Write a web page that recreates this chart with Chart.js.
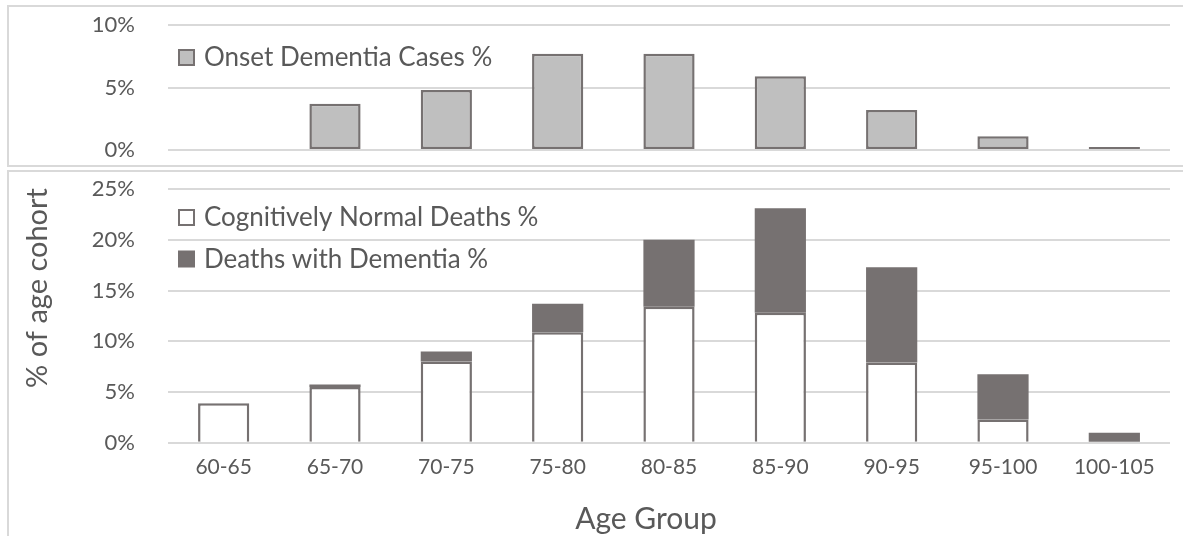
<!DOCTYPE html>
<html>
<head>
<meta charset="utf-8">
<script src="https://cdn.jsdelivr.net/npm/chart.js@4.4.0/dist/chart.umd.min.js"></script>
<style>
body{margin:0;background:#fff;width:1183px;height:536px;overflow:hidden;position:relative;font-family:Lato}
.frame{position:absolute;border:2px solid #d9d9d9;left:7px;width:1200px}
#f1{top:5px;height:158px}
#f2{top:170px;height:400px}
#w1{position:absolute;left:0;top:0}
#w2{position:absolute;left:0;top:168px}
</style>
</head>
<body>
<div class="frame" id="f1"></div>
<div class="frame" id="f2"></div>
<canvas id="w1" width="1183" height="168"></canvas>
<canvas id="w2" width="1183" height="368"></canvas>
<script>
var ageGroups = ['60-65', '65-70', '70-75', '75-80', '80-85', '85-90', '90-95', '95-100', '100-105'];
var onsetPct = [null, 3.7, 4.8, 7.7, 7.7, 5.9, 3.2, 1.1, 0.25];
var normalDeathPct = [3.9, 5.5, 8.0, 10.9, 13.4, 12.8, 7.9, 2.3, 0];
var dementiaDeathPct = [0, 0.25, 1.0, 2.8, 6.6, 10.3, 9.4, 4.45, 1.0];
var yTicksTop = [0, 5, 10];
var yTicksBottom = [0, 5, 10, 15, 20, 25];

var textColor = '#595959';
var barEdge = '#767171';
var gridColor = '#d9d9d9';

Chart.defaults.font.family = 'Lato';
Chart.defaults.color = textColor;

// legend drawn inside the plot, Excel style
var innerLegend = {
    id: 'innerLegend',
    afterDraw: function (chart, args, opts) {
        var ctx = chart.ctx;
        var area = chart.chartArea;
        ctx.save();
        ctx.font = opts.fontSize + 'px Lato';
        ctx.textBaseline = 'middle';
        chart.data.datasets.forEach(function (ds, i) {
            var y = area.top + opts.top + i * opts.spacing;
            var x = area.left + opts.left;
            ctx.fillStyle = ds.backgroundColor;
            ctx.fillRect(x, y - 7, 15, 15);
            ctx.strokeStyle = barEdge;
            ctx.lineWidth = 2;
            ctx.strokeRect(x, y - 7, 15, 15);
            ctx.fillStyle = textColor;
            ctx.fillText(ds.label, x + 25, y + 1);
        });
        ctx.restore();
    }
};

// axis titles placed where Excel put them
var axisTitles = {
    id: 'axisTitles',
    afterDraw: function (chart, args, opts) {
        var ctx = chart.ctx;
        ctx.save();
        ctx.fillStyle = textColor;
        ctx.textAlign = 'center';
        ctx.textBaseline = 'middle';
        opts.items.forEach(function (t) {
            ctx.save();
            ctx.font = t.size + 'px Lato';
            ctx.translate(t.x, t.y);
            ctx.rotate(t.rotate || 0);
            ctx.fillText(t.text, 0, 0);
            ctx.restore();
        });
        ctx.restore();
    }
};

function yScale(max, ticks) {
    return {
        min: 0,
        max: max,
        afterBuildTicks: function (s) {
            s.ticks = ticks.map(function (v) { return {value: v}; });
        },
        afterFit: function (s) { s.width = 168; },
        border: {display: false},
        grid: {color: gridColor, lineWidth: 2, drawTicks: true, tickLength: 33, tickColor: 'rgba(0,0,0,0)'},
        ticks: {
            padding: 0,
            font: {size: 22},
            callback: function (v) { return v + '%'; }
        }
    };
}

new Chart(document.getElementById('w1').getContext('2d'), {
    type: 'bar',
    data: {
        labels: ageGroups,
        datasets: [{
            label: 'Onset Dementia Cases %',
            data: onsetPct,
            backgroundColor: '#bfbfbf',
            borderColor: barEdge,
            borderWidth: 2.5,
            borderSkipped: false,
            barPercentage: 0.46,
            categoryPercentage: 1
        }]
    },
    options: {
        responsive: false,
        animation: false,
        layout: {padding: {top: 25, right: 13, bottom: 18}},
        plugins: {
            legend: {display: false},
            tooltip: {enabled: false},
            innerLegend: {left: 11, top: 32, spacing: 42, fontSize: 26}
        },
        scales: {
            x: {display: false},
            y: yScale(10, yTicksTop)
        }
    },
    plugins: [innerLegend]
});

new Chart(document.getElementById('w2').getContext('2d'), {
    type: 'bar',
    data: {
        labels: ageGroups,
        datasets: [{
            label: 'Cognitively Normal Deaths %',
            data: normalDeathPct,
            backgroundColor: '#ffffff',
            borderColor: barEdge,
            borderWidth: 2.5,
            barPercentage: 0.46,
            categoryPercentage: 1
        }, {
            label: 'Deaths with Dementia %',
            data: dementiaDeathPct,
            backgroundColor: barEdge,
            borderColor: barEdge,
            borderWidth: 0,
            barPercentage: 0.46,
            categoryPercentage: 1
        }]
    },
    options: {
        responsive: false,
        animation: false,
        layout: {padding: {top: 21, right: 13, bottom: 44}},
        plugins: {
            legend: {display: false},
            tooltip: {enabled: false},
            innerLegend: {left: 11, top: 28, spacing: 41.5, fontSize: 26},
            axisTitles: {items: [
                {text: 'Age Group', x: 646, y: 351, size: 30},
                {text: '% of age cohort', x: 38, y: 120, size: 29, rotate: -Math.PI / 2}
            ]}
        },
        scales: {
            x: {
                stacked: true,
                border: {display: false},
                grid: {display: false, drawTicks: false},
                ticks: {padding: 12, font: {size: 21}}
            },
            y: Object.assign(yScale(25, yTicksBottom), {stacked: true})
        }
    },
    plugins: [innerLegend, axisTitles]
});
</script>
</body>
</html>
